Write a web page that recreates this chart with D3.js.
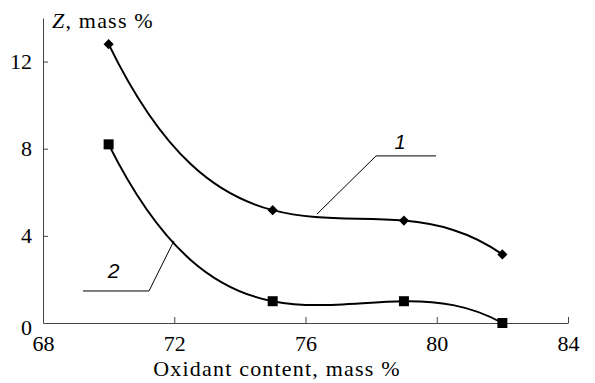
<!DOCTYPE html>
<html>
<head>
<meta charset="utf-8">
<script src="https://cdn.jsdelivr.net/npm/d3@7"></script>
<style>
  body { margin: 0; background: #fff; }
</style>
</head>
<body>
<svg id="chart" width="595" height="383"></svg>
<script>
'use strict';

// oxidant content, mass %
var oxidant = [70, 75, 79, 82]
// Z, mass %  (curve 1 diamonds, curve 2 squares)
var series1 = [12.8, 5.18, 4.7, 3.15]
var series2 = [8.2, 1.0, 1.0, 0.0]
var xTicks = [68, 72, 76, 80, 84]
var yTicks = [0, 4, 8, 12]
// leader lines for the curve labels, in data units: anchor on curve, elbow, end
var leader1 = [[76.35, 5.0], [78.15, 7.67], [79.98, 7.67]]
var label1 = [78.88, 8.3]
var leader2 = [[71.99, 3.77], [71.23, 1.47], [69.22, 1.47]]
var label2 = [70.15, 2.4]

var SERIF = '"Liberation Serif", "Times New Roman", serif'
var SANS = '"Liberation Sans", Arial, sans-serif'

var svg = d3.select('#chart')
var x = d3.scaleLinear().domain([68, 84]).range([43, 568])
var y = d3.scaleLinear().domain([0, 14]).range([323, 18])

// smooth curve: the cubic through all the points, drawn as one bezier per segment
function curvePoly(context) {
    var xs, ys
    function p(t) {
        var s = 0
        for (var i = 0; i < xs.length; i++) {
            var w = ys[i]
            for (var j = 0; j < xs.length; j++) {
                if (j !== i) w *= (t - xs[j]) / (xs[i] - xs[j])
            }
            s += w
        }
        return s
    }
    function dp(t) {
        var e = 0.01
        return (p(t + e) - p(t - e)) / (2 * e)
    }
    return {
        areaStart: function() {},
        areaEnd: function() {},
        lineStart: function() { xs = []; ys = [] },
        point: function(px, py) { xs.push(+px); ys.push(+py) },
        lineEnd: function() {
            context.moveTo(xs[0], ys[0])
            for (var i = 0; i < xs.length - 1; i++) {
                var h = xs[i + 1] - xs[i]
                context.bezierCurveTo(
                    xs[i] + h / 3, ys[i] + h / 3 * dp(xs[i]),
                    xs[i + 1] - h / 3, ys[i + 1] - h / 3 * dp(xs[i + 1]),
                    xs[i + 1], ys[i + 1])
            }
        }
    }
}

// axes
var gx = svg.append('g').attr('transform', 'translate(0,' + y(0) + ')')
    .call(d3.axisBottom(x).tickValues(xTicks).tickSize(-6).tickPadding(12).tickSizeOuter(0))
    .attr('font-family', SERIF).attr('font-size', 22)
gx.select('.domain').attr('stroke', '#444')
gx.selectAll('.tick line').attr('stroke', '#444')
gx.selectAll('.tick text')
    .style('font-family', SERIF).style('font-size', '22px').attr('fill', '#000')

var gy = svg.append('g').attr('transform', 'translate(' + x(68) + ',0)')
    .call(d3.axisLeft(y).tickValues(yTicks).tickSize(-5).tickPadding(11).tickSizeOuter(0))
    .attr('font-family', SERIF).attr('font-size', 22)
gy.select('.domain').attr('stroke', '#444')
gy.selectAll('.tick line').attr('stroke', '#444')
gy.selectAll('.tick text')
    .style('font-family', SERIF).style('font-size', '22px').attr('fill', '#000')
gy.selectAll('.tick').filter(function(d) { return d === 0 }).select('line').remove()
gy.selectAll('.tick').filter(function(d) { return d === 0 }).select('text').attr('dy', '0.5em')

svg.append('text')
    .attr('x', 277).attr('y', 376)
    .attr('text-anchor', 'middle')
    .style('font-family', SERIF).style('font-size', '22px').style('letter-spacing', '1.2px')
    .text('Oxidant content, mass %')

var yt = svg.append('text').attr('x', 52).attr('y', 28)
    .style('font-family', SERIF).style('font-size', '22px').style('letter-spacing', '1.2px')
yt.append('tspan').style('font-style', 'italic').text('Z')
yt.append('tspan').text(', mass %')

// curves
var line = d3.line()
    .x(function(d) { return x(d[0]) })
    .y(function(d) { return y(d[1]) })
    .curve(curvePoly)

var pts1 = oxidant.map(function(v, i) { return [v, series1[i]] })
var pts2 = oxidant.map(function(v, i) { return [v, series2[i]] })

svg.append('path').datum(pts1).attr('d', line)
    .attr('fill', 'none').attr('stroke', '#000').attr('stroke-width', 2)
svg.append('path').datum(pts2).attr('d', line)
    .attr('fill', 'none').attr('stroke', '#000').attr('stroke-width', 2)

svg.selectAll('.diamond').data(pts1).enter().append('path')
    .attr('class', 'diamond')
    .attr('transform', function(d) { return 'translate(' + x(d[0]) + ',' + y(d[1]) + ')' })
    .attr('d', d3.symbol().type(d3.symbolDiamond2).size(66))
    .attr('fill', '#000')

svg.selectAll('.square').data(pts2).enter().append('rect')
    .attr('class', 'square')
    .attr('x', function(d) { return x(d[0]) - 5 })
    .attr('y', function(d) { return y(d[1]) - 5 })
    .attr('width', 10).attr('height', 10)
    .attr('fill', '#000')

// leaders and labels
var lineLin = d3.line()
    .x(function(d) { return x(d[0]) })
    .y(function(d) { return y(d[1]) })

svg.append('path').datum(leader1).attr('d', lineLin)
    .attr('fill', 'none').attr('stroke', '#000').attr('stroke-width', 1)
svg.append('path').datum(leader2).attr('d', lineLin)
    .attr('fill', 'none').attr('stroke', '#000').attr('stroke-width', 1)

svg.append('text').attr('x', x(label1[0])).attr('y', y(label1[1]))
    .attr('text-anchor', 'middle').attr('dy', '0.35em')
    .style('font-family', SANS).style('font-size', '20px').style('font-style', 'italic')
    .text('1')
svg.append('text').attr('x', x(label2[0])).attr('y', y(label2[1]))
    .attr('text-anchor', 'middle').attr('dy', '0.35em')
    .style('font-family', SANS).style('font-size', '21px').style('font-style', 'italic')
    .text('2')
</script>
</body>
</html>
